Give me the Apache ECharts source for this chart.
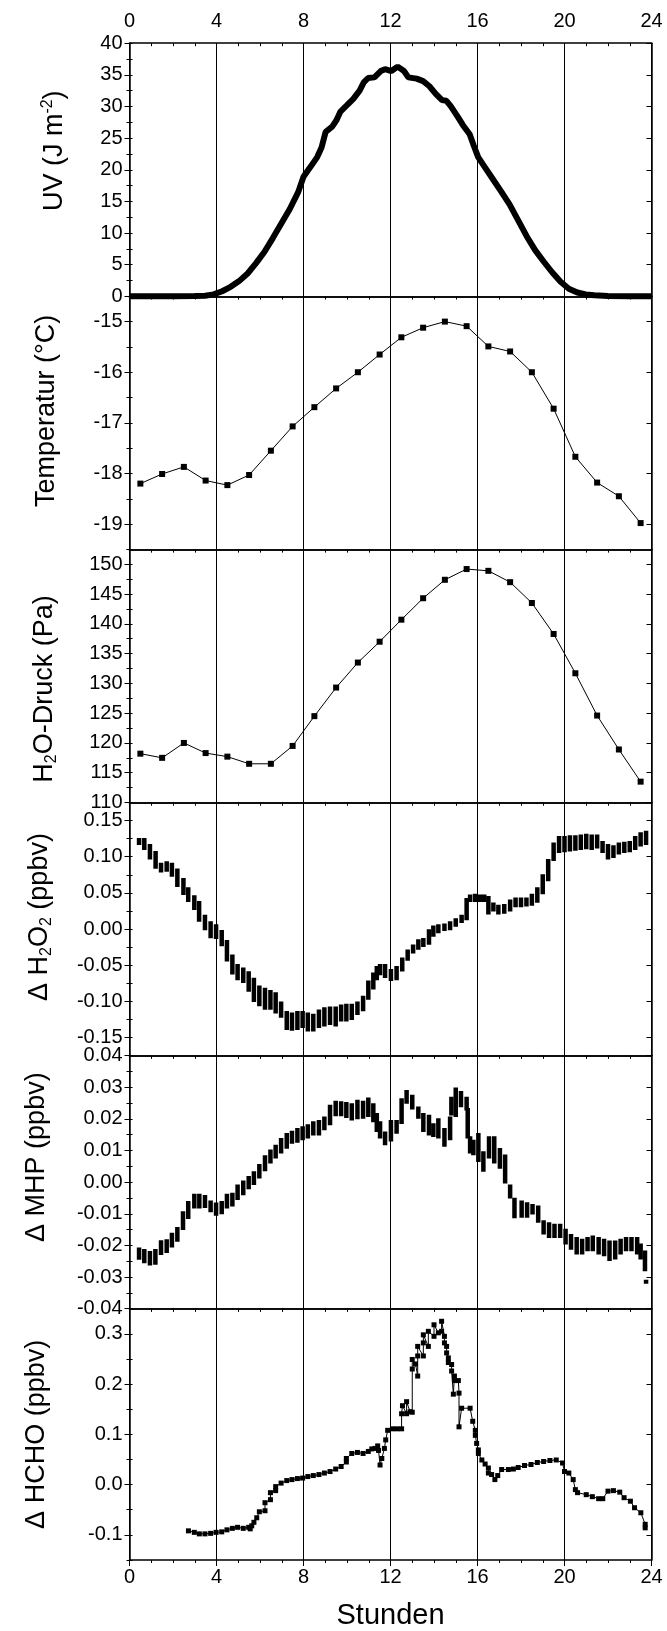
<!DOCTYPE html>
<html><head><meta charset="utf-8">
<script src="https://cdn.jsdelivr.net/npm/echarts@6/dist/echarts.min.js"></script>
<style>html,body{margin:0;padding:0;background:#fff}#c{width:667px;height:1631px}</style>
</head><body><div id="c"></div>
<script>
// ---------------- DATA ----------------
const hourTicks = [0, 4, 8, 12, 16, 20, 24];

const uvHours = [0, 1, 2, 3, 3.48, 3.87, 4.26, 4.65, 5.04, 5.43, 5.81, 6.2, 6.59, 6.98, 7.37, 7.76, 8.0, 8.33, 8.63, 8.83, 9.02, 9.32, 9.51, 9.7, 10.0, 10.29, 10.58, 10.77, 10.97, 11.26, 11.55, 11.75, 12.04, 12.33, 12.62, 12.82, 13.2, 13.5, 13.79, 14.08, 14.37, 14.57, 14.76, 15.05, 15.34, 15.64, 15.83, 16.03, 16.32, 16.71, 17.1, 17.48, 17.87, 18.26, 18.65, 19.04, 19.43, 19.82, 20.2, 20.59, 20.98, 21.37, 22, 23, 24];
const uvValues = [0, 0, 0, 0.05, 0.1, 0.3, 0.8, 1.5, 2.4, 3.6, 5.2, 7.0, 9.2, 11.5, 13.8, 16.5, 18.9, 20.5, 22.0, 23.5, 26.0, 26.8, 27.8, 29.2, 30.2, 31.2, 32.5, 33.8, 34.5, 34.6, 35.6, 35.9, 35.6, 36.3, 35.6, 34.6, 34.4, 34.0, 33.2, 32.0, 31.0, 30.9, 30.1, 28.6, 27.0, 25.6, 23.8, 22.0, 20.5, 18.5, 16.5, 14.5, 12.0, 9.5, 7.3, 5.5, 3.8, 2.3, 1.2, 0.6, 0.3, 0.15, 0.05, 0, 0];

const tempHours = [0.5, 1.5, 2.5, 3.5, 4.5, 5.5, 6.5, 7.5, 8.5, 9.5, 10.5, 11.5, 12.5, 13.5, 14.5, 15.5, 16.5, 17.5, 18.5, 19.5, 20.5, 21.5, 22.5, 23.5];
const tempValues = [-18.20, -18.01, -17.87, -18.14, -18.23, -18.03, -17.55, -17.07, -16.69, -16.32, -16.0, -15.65, -15.31, -15.12, -15.0, -15.09, -15.49, -15.59, -16.0, -16.72, -17.67, -18.18, -18.45, -18.98];

const h2oHours = [0.5, 1.5, 2.5, 3.5, 4.5, 5.5, 6.5, 7.5, 8.5, 9.5, 10.5, 11.5, 12.5, 13.5, 14.5, 15.5, 16.5, 17.5, 18.5, 19.5, 20.5, 21.5, 22.5, 23.5];
const h2oValues = [118.2, 117.5, 120.0, 118.3, 117.7, 116.5, 116.5, 119.5, 124.5, 129.3, 133.5, 137.0, 140.7, 144.3, 147.4, 149.2, 148.9, 147.0, 143.5, 138.3, 131.7, 124.6, 118.9, 113.5];

const h2o2Hours = [0.44, 0.68, 0.94, 1.2, 1.45, 1.71, 1.95, 2.2, 2.48, 2.7, 2.98, 3.2, 3.47, 3.73, 3.98, 4.24, 4.48, 4.73, 4.97, 5.23, 5.48, 5.72, 5.97, 6.23, 6.48, 6.72, 6.97, 7.23, 7.47, 7.72, 7.96, 8.2, 8.45, 8.71, 8.96, 9.22, 9.48, 9.73, 9.97, 10.22, 10.48, 10.74, 10.98, 11.21, 11.37, 11.52, 11.75, 12.02, 12.28, 12.54, 12.79, 13.04, 13.28, 13.51, 13.77, 13.97, 14.2, 14.48, 14.74, 15.0, 15.27, 15.5, 15.66, 15.89, 16.12, 16.31, 16.5, 16.73, 16.96, 17.23, 17.5, 17.75, 18.0, 18.25, 18.5, 18.75, 19.0, 19.25, 19.5, 19.75, 20.0, 20.25, 20.5, 20.75, 21.0, 21.25, 21.5, 21.75, 22.0, 22.25, 22.5, 22.75, 23.0, 23.25, 23.5, 23.75];
const h2o2Low = [0.119, 0.112, 0.099, 0.086, 0.081, 0.082, 0.075, 0.061, 0.050, 0.040, 0.029, 0.013, 0.001, -0.010, -0.011, -0.021, -0.042, -0.060, -0.068, -0.072, -0.084, -0.098, -0.104, -0.109, -0.109, -0.114, -0.120, -0.137, -0.138, -0.137, -0.134, -0.139, -0.139, -0.134, -0.132, -0.130, -0.132, -0.125, -0.125, -0.123, -0.116, -0.111, -0.095, -0.081, -0.068, -0.061, -0.065, -0.069, -0.068, -0.056, -0.041, -0.031, -0.026, -0.022, -0.019, -0.008, -0.003, 0.000, 0.001, 0.006, 0.011, 0.015, 0.040, 0.040, 0.040, 0.040, 0.023, 0.027, 0.023, 0.024, 0.027, 0.033, 0.033, 0.034, 0.035, 0.039, 0.051, 0.069, 0.097, 0.108, 0.109, 0.110, 0.111, 0.112, 0.113, 0.112, 0.114, 0.108, 0.099, 0.101, 0.106, 0.108, 0.109, 0.112, 0.117, 0.119];
const h2o2High = [0.123, 0.123, 0.115, 0.105, 0.089, 0.091, 0.089, 0.081, 0.068, 0.055, 0.044, 0.036, 0.017, 0.008, 0.004, -0.004, -0.018, -0.038, -0.051, -0.056, -0.061, -0.070, -0.081, -0.084, -0.087, -0.090, -0.103, -0.116, -0.118, -0.116, -0.116, -0.118, -0.120, -0.114, -0.111, -0.110, -0.110, -0.107, -0.106, -0.106, -0.103, -0.095, -0.074, -0.063, -0.054, -0.051, -0.051, -0.058, -0.054, -0.042, -0.031, -0.024, -0.017, -0.015, -0.003, 0.002, 0.004, 0.005, 0.008, 0.012, 0.017, 0.040, 0.045, 0.046, 0.045, 0.045, 0.043, 0.034, 0.031, 0.032, 0.038, 0.041, 0.041, 0.041, 0.046, 0.055, 0.073, 0.094, 0.117, 0.126, 0.126, 0.127, 0.127, 0.128, 0.129, 0.128, 0.128, 0.119, 0.115, 0.113, 0.117, 0.118, 0.119, 0.126, 0.131, 0.133];

const mhpHours = [0.44, 0.68, 0.94, 1.19, 1.45, 1.71, 1.95, 2.2, 2.46, 2.7, 2.98, 3.21, 3.47, 3.73, 3.98, 4.24, 4.48, 4.73, 4.97, 5.23, 5.48, 5.72, 5.97, 6.23, 6.48, 6.72, 6.97, 7.23, 7.47, 7.72, 7.96, 8.2, 8.45, 8.71, 8.96, 9.22, 9.48, 9.73, 9.97, 10.22, 10.48, 10.74, 10.98, 11.21, 11.37, 11.52, 11.75, 12.02, 12.28, 12.51, 12.74, 13.0, 13.28, 13.51, 13.77, 13.97, 14.2, 14.48, 14.74, 14.8, 15.0, 15.24, 15.5, 15.55, 15.66, 15.81, 16.04, 16.27, 16.53, 16.77, 17.03, 17.27, 17.5, 17.7, 18.03, 18.28, 18.53, 18.79, 19.04, 19.29, 19.54, 19.8, 20.05, 20.3, 20.56, 20.81, 21.06, 21.3, 21.57, 21.82, 22.07, 22.33, 22.58, 22.83, 23.08, 23.34, 23.5, 23.7, 23.75];
const mhpLow = [-0.0239, -0.0250, -0.0257, -0.0255, -0.0224, -0.0218, -0.0200, -0.0182, -0.0145, -0.0110, -0.0077, -0.0077, -0.0075, -0.0089, -0.0100, -0.0095, -0.0077, -0.0071, -0.0050, -0.0035, -0.0016, -0.0003, 0.0018, 0.0041, 0.0065, 0.0081, 0.0097, 0.0112, 0.0128, 0.0131, 0.0139, 0.0144, 0.0154, 0.0154, 0.0170, 0.0186, 0.0215, 0.0215, 0.0209, 0.0201, 0.0205, 0.0207, 0.0212, 0.0196, 0.0165, 0.0144, 0.0123, 0.0135, 0.0159, 0.0190, 0.0254, 0.0236, 0.0207, 0.0165, 0.0154, 0.0149, 0.0144, 0.0118, 0.0139, 0.0217, 0.0212, 0.0243, 0.0233, 0.0144, 0.0097, 0.0091, 0.0070, 0.0039, 0.0081, 0.0065, 0.0049, 0.0002, -0.0045, -0.0108, -0.0106, -0.0106, -0.0096, -0.0122, -0.0159, -0.0170, -0.0170, -0.0170, -0.0191, -0.0207, -0.0222, -0.0222, -0.0212, -0.0212, -0.0222, -0.0228, -0.0243, -0.0238, -0.0222, -0.0212, -0.0212, -0.0222, -0.0238, -0.0275, -0.0315];
const mhpHigh = [-0.0213, -0.0218, -0.0224, -0.0218, -0.0190, -0.0187, -0.0166, -0.0148, -0.0098, -0.0066, -0.0043, -0.0043, -0.0047, -0.0064, -0.0071, -0.0066, -0.0043, -0.0040, -0.0014, -0.0001, 0.0013, 0.0028, 0.0051, 0.0079, 0.0097, 0.0112, 0.0133, 0.0149, 0.0156, 0.0165, 0.0170, 0.0177, 0.0186, 0.0190, 0.0201, 0.0238, 0.0251, 0.0249, 0.0247, 0.0243, 0.0254, 0.0251, 0.0261, 0.0243, 0.0212, 0.0186, 0.0154, 0.0190, 0.0190, 0.0259, 0.0285, 0.0270, 0.0233, 0.0212, 0.0207, 0.0180, 0.0196, 0.0165, 0.0201, 0.0264, 0.0293, 0.0282, 0.0264, 0.0228, 0.0139, 0.0128, 0.0149, 0.0091, 0.0139, 0.0139, 0.0102, 0.0081, -0.0014, -0.0056, -0.0064, -0.0070, -0.0075, -0.0080, -0.0127, -0.0133, -0.0138, -0.0138, -0.0154, -0.0170, -0.0180, -0.0185, -0.0180, -0.0175, -0.0180, -0.0185, -0.0191, -0.0191, -0.0185, -0.0180, -0.0180, -0.0180, -0.0200, -0.0222, -0.0315];

const hchoHours = [2.71, 2.98, 3.21, 3.47, 3.73, 3.98, 4.24, 4.48, 4.73, 4.97, 5.23, 5.48, 5.55, 5.62, 5.72, 5.85, 5.97, 6.23, 6.23, 6.48, 6.48, 6.72, 6.72, 6.97, 7.23, 7.47, 7.72, 7.96, 8.2, 8.45, 8.71, 8.96, 9.22, 9.48, 9.73, 9.97, 9.97, 10.22, 10.48, 10.74, 10.98, 11.14, 11.29, 11.41, 11.45, 11.52, 11.6, 11.72, 11.78, 11.87, 12.09, 12.3, 12.51, 12.51, 12.55, 12.74, 12.74, 12.9, 13.0, 13.0, 13.0, 13.15, 13.25, 13.25, 13.25, 13.51, 13.51, 13.51, 13.74, 13.74, 14.0, 14.0, 14.2, 14.35, 14.35, 14.48, 14.48, 14.58, 14.58, 14.66, 14.66, 14.81, 14.81, 14.89, 14.94, 14.94, 15.12, 15.15, 15.15, 15.27, 15.66, 15.78, 15.9, 15.9, 15.96, 16.04, 16.04, 16.2, 16.35, 16.5, 16.5, 16.65, 16.8, 16.93, 17.11, 17.42, 17.65, 17.87, 18.16, 18.46, 18.75, 19.04, 19.33, 19.62, 19.91, 20.0, 20.2, 20.4, 20.5, 20.6, 21.0, 21.28, 21.57, 21.76, 22.0, 22.25, 22.54, 22.74, 23.03, 23.22, 23.51, 23.71, 23.71];
const hchoValues = [-0.092, -0.095, -0.098, -0.098, -0.097, -0.095, -0.094, -0.090, -0.087, -0.085, -0.087, -0.085, -0.088, -0.082, -0.075, -0.066, -0.054, -0.052, -0.036, -0.030, -0.016, -0.012, -0.004, 0.003, 0.008, 0.010, 0.012, 0.013, 0.016, 0.018, 0.020, 0.023, 0.026, 0.031, 0.036, 0.045, 0.052, 0.062, 0.064, 0.062, 0.066, 0.071, 0.072, 0.077, 0.068, 0.039, 0.052, 0.072, 0.089, 0.108, 0.111, 0.111, 0.111, 0.141, 0.157, 0.141, 0.165, 0.145, 0.144, 0.230, 0.249, 0.240, 0.216, 0.256, 0.275, 0.256, 0.282, 0.298, 0.275, 0.305, 0.295, 0.318, 0.302, 0.305, 0.325, 0.295, 0.282, 0.275, 0.262, 0.252, 0.243, 0.239, 0.226, 0.180, 0.216, 0.207, 0.207, 0.182, 0.115, 0.152, 0.152, 0.126, 0.108, 0.098, 0.082, 0.069, 0.062, 0.049, 0.041, 0.033, 0.023, 0.020, 0.010, 0.018, 0.030, 0.030, 0.031, 0.034, 0.038, 0.040, 0.044, 0.046, 0.048, 0.049, 0.043, 0.026, 0.023, 0.010, -0.010, -0.016, -0.020, -0.024, -0.028, -0.028, -0.013, -0.012, -0.015, -0.026, -0.033, -0.046, -0.056, -0.079, -0.086];

const uvTicks = [0, 5, 10, 15, 20, 25, 30, 35, 40];
const tempTicks = [-19, -18, -17, -16, -15];
const h2oTicks = [110, 115, 120, 125, 130, 135, 140, 145, 150];
const h2o2Ticks = [-0.15, -0.10, -0.05, 0.00, 0.05, 0.10, 0.15];
const mhpTicks = [-0.04, -0.03, -0.02, -0.01, 0.00, 0.01, 0.02, 0.03, 0.04];
const hchoTicks = [-0.1, 0.0, 0.1, 0.2, 0.3];

// ---------------- LAYOUT ----------------
const FONT = '"Liberation Sans", Arial, sans-serif';
const LEFT = 129.5, RIGHT = 15.5, TOP0 = 43.2, PH = 253.1;
const BLACK = '#000';
const LABEL_FS = 20, TITLE_FS = 27;

function pairs(xs, ys) { return xs.map((x, i) => [x, ys[i]]); }
function minorOf(ticks, min, max) {
  const step = (ticks[1] - ticks[0]) / 2;
  const out = [];
  for (let v = ticks[0] - step; v <= max + 1e-9; v += step) {
    if (v >= min - 1e-9) out.push(+v.toFixed(6));
  }
  return out;
}

const panels = [
  {min: 0, max: 40, ticks: uvTicks, dec: 0,
   name: '{a|UV (J m}{s|-2}{a|)}', gap: 60, pad: [0, 0, 0, 38]},
  {min: -19.5, max: -14.5, ticks: tempTicks, dec: 0,
   name: '{a|Temperatur (°C)}', gap: 68, pad: [0, 0, 0, 24]},
  {min: 110, max: 152.5, ticks: h2oTicks, dec: 0,
   name: '{a|H}{b|2}{a|O-Druck (Pa)}', gap: 70, pad: [0, 26, 0, 0]},
  {min: -0.175, max: 0.175, ticks: h2o2Ticks, dec: 2,
   name: '{a|Δ H}{b|2}{a|O}{b|2}{a| (ppbv)}', gap: 75, pad: [0, 0, 0, 24]},
  {min: -0.04, max: 0.04, ticks: mhpTicks, dec: 2,
   name: '{a|Δ MHP (ppbv)}', gap: 78, pad: [0, 0, 0, 50]},
  {min: -0.15, max: 0.35, ticks: hchoTicks, dec: 1,
   name: '{a|Δ HCHO (ppbv)}', gap: 78, pad: [0, 0, 0, 0]}
];

const richName = {
  a: {fontSize: TITLE_FS, fontFamily: FONT, color: BLACK, lineHeight: 30},
  s: {fontSize: 16, fontFamily: FONT, color: BLACK, verticalAlign: 'top', lineHeight: 30},
  b: {fontSize: 16, fontFamily: FONT, color: BLACK, verticalAlign: 'bottom', lineHeight: 26}
};

const grid = [], xAxis = [], yAxis = [], series = [];
panels.forEach((p, i) => {
  grid.push({left: LEFT, right: RIGHT, top: TOP0 + i * PH, height: PH});
  // bottom x axis
  xAxis.push({
    type: 'value', gridIndex: i, position: 'bottom', min: 0, max: 24, interval: 4,
    axisLine: {show: true, onZero: false, lineStyle: {color: BLACK, width: 1.5}},
    axisTick: {show: true, inside: false, length: 6, lineStyle: {color: BLACK, width: 1}},
    minorTick: {show: true, splitNumber: 4, length: 3, lineStyle: {color: BLACK, width: 1}},
    splitLine: {show: true, lineStyle: {color: BLACK, width: 1}},
    axisLabel: {show: i === 5, margin: 7, fontSize: LABEL_FS, fontFamily: FONT, color: BLACK,
      customValues: hourTicks},
    name: i === 5 ? 'Stunden' : '', nameLocation: 'middle', nameGap: 41,
    nameTextStyle: {fontSize: 29, fontFamily: FONT, color: BLACK}
  });
  // top x axis
  xAxis.push({
    type: 'value', gridIndex: i, position: 'top', min: 0, max: 24, interval: 4,
    axisLine: {show: true, onZero: false, lineStyle: {color: BLACK, width: 1.5}},
    axisTick: {show: true, inside: true, length: 6, lineStyle: {color: BLACK, width: 1}},
    minorTick: {show: true, splitNumber: 4, length: 3, lineStyle: {color: BLACK, width: 1}},
    splitLine: {show: false},
    axisLabel: {show: i === 0, margin: 12, fontSize: LABEL_FS, fontFamily: FONT, color: BLACK,
      customValues: hourTicks}
  });
  const minors = minorOf(p.ticks, p.min, p.max);
  // left main
  yAxis.push({
    type: 'value', gridIndex: i, position: 'left', min: p.min, max: p.max,
    axisLine: {show: true, onZero: false, lineStyle: {color: BLACK, width: 1.5}},
    axisTick: {show: true, inside: false, length: 5, customValues: p.ticks, lineStyle: {color: BLACK, width: 1}},
    splitLine: {show: false},
    axisLabel: {show: true, margin: 7, fontSize: LABEL_FS, fontFamily: FONT, color: BLACK,
      customValues: p.ticks, formatter: v => Number(v).toFixed(p.dec)},
    name: p.name, nameLocation: 'middle', nameRotate: 90, nameGap: p.gap,
    nameTextStyle: {rich: richName, padding: p.pad}
  });
  // left minor
  yAxis.push({
    type: 'value', gridIndex: i, position: 'left', min: p.min, max: p.max,
    axisLine: {show: false}, splitLine: {show: false}, axisLabel: {show: false},
    axisTick: {show: true, inside: true, length: 3, customValues: minors, lineStyle: {color: BLACK, width: 1}}
  });
  // right main
  yAxis.push({
    type: 'value', gridIndex: i, position: 'right', min: p.min, max: p.max,
    axisLine: {show: true, onZero: false, lineStyle: {color: BLACK, width: 1.5}},
    axisTick: {show: true, inside: true, length: 5, customValues: p.ticks, lineStyle: {color: BLACK, width: 1}},
    splitLine: {show: false}, axisLabel: {show: false}
  });
  // right minor
  yAxis.push({
    type: 'value', gridIndex: i, position: 'right', min: p.min, max: p.max,
    axisLine: {show: false}, splitLine: {show: false}, axisLabel: {show: false},
    axisTick: {show: true, inside: true, length: 3, customValues: minors, lineStyle: {color: BLACK, width: 1}}
  });
});

function barSeries(panel, hours, lo, hi) {
  return {
    type: 'custom', xAxisIndex: panel * 2, yAxisIndex: panel * 4, clip: true,
    data: hours.map((h, k) => [h, lo[k], hi[k]]),
    encode: {x: 0, y: [1, 2]},
    renderItem: (params, api) => {
      const a = api.coord([api.value(0), api.value(2)]);
      const b = api.coord([api.value(0), api.value(1)]);
      const w = 4.5;
      return {type: 'rect', shape: {x: a[0] - w / 2, y: a[1] - 2, width: w, height: b[1] - a[1] + 4},
        style: {fill: BLACK}};
    }
  };
}

series.push({type: 'line', xAxisIndex: 0, yAxisIndex: 0, data: pairs(uvHours, uvValues),
  showSymbol: false, symbol: 'none', lineStyle: {color: BLACK, width: 6}, smooth: false, clip: false});
series.push({type: 'line', xAxisIndex: 2, yAxisIndex: 4, data: pairs(tempHours, tempValues),
  symbol: 'rect', symbolSize: 6, itemStyle: {color: BLACK}, lineStyle: {color: BLACK, width: 1}});
series.push({type: 'line', xAxisIndex: 4, yAxisIndex: 8, data: pairs(h2oHours, h2oValues),
  symbol: 'rect', symbolSize: 6, itemStyle: {color: BLACK}, lineStyle: {color: BLACK, width: 1}});
series.push(barSeries(3, h2o2Hours, h2o2Low, h2o2High));
series.push(barSeries(4, mhpHours, mhpLow, mhpHigh));
series.push({type: 'line', xAxisIndex: 10, yAxisIndex: 20, data: pairs(hchoHours, hchoValues),
  symbol: 'rect', symbolSize: 5, itemStyle: {color: BLACK}, lineStyle: {color: BLACK, width: 1}});

const chart = echarts.init(document.getElementById('c'), null, {renderer: 'canvas'});
chart.setOption({
  animation: false,
  backgroundColor: '#fff',
  textStyle: {fontFamily: FONT},
  grid, xAxis, yAxis, series
});
</script>
</body></html>
